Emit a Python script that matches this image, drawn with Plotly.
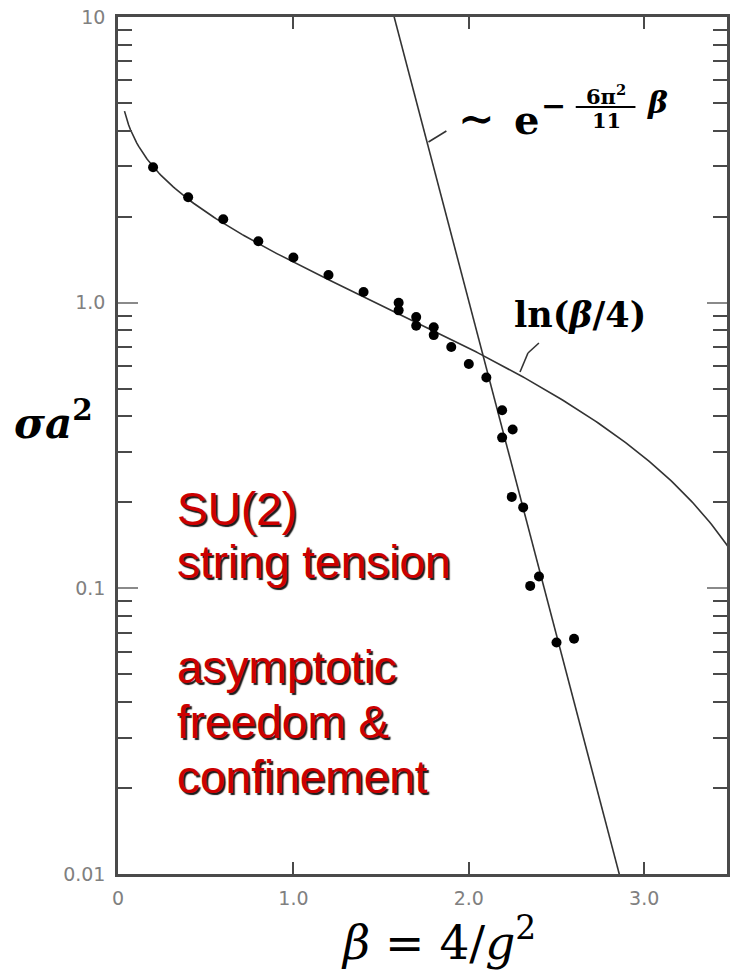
import numpy as np
import plotly.graph_objects as go

# Measured SU(2) string tension (lattice units) vs beta = 4/g^2
beta_pts = [0.20, 0.40, 0.60, 0.80, 1.00, 1.20, 1.40, 1.60, 1.60, 1.70, 1.70,
            1.80, 1.80, 1.90, 2.00, 2.10, 2.19, 2.25, 2.19, 2.245, 2.31, 2.40,
            2.35, 2.50, 2.60]
sigma_pts = [2.98, 2.34, 1.96, 1.64, 1.44, 1.25, 1.09, 1.00, 0.94, 0.89, 0.83,
             0.82, 0.77, 0.70, 0.61, 0.547, 0.42, 0.36, 0.337, 0.209, 0.192, 0.110,
             0.102, 0.0646, 0.0666]

# Axis ticks
x_tickvals = [0, 1, 2, 3]
x_ticktext = ["0", "1.0", "2.0", "3.0"]
y_tickvals = [0.01, 0.1, 1, 10]
y_ticktext = ["0.01", "0.1", "1.0", "10"]
y_minor = [m * d for d in (0.01, 0.1, 1) for m in range(2, 10)]

# Strong coupling curve:  sigma a^2 = -ln(beta/4)
beta_strong = np.linspace(0.037, 3.5, 300)
sigma_strong = -np.log(beta_strong / 4.0)

# Weak coupling (asymptotic freedom):  sigma a^2 ~ C exp(-6 pi^2 / 11 * beta)
EXP_PREFACTOR = 4.8e4
beta_weak = np.linspace(1.5, 2.95, 100)
sigma_weak = EXP_PREFACTOR * np.exp(-6 * np.pi ** 2 / 11 * beta_weak)

W, H = 732, 975
L, R, T, B = 118, 2, 17, 101


def px(x):
    return (x - L) / (W - L - R)


def py(y):
    return (H - B - y) / (H - T - B)


AX = "#4a4a4a"
TICKFONT = dict(family="DejaVu Sans", size=19, color="#808080")

fig = go.Figure()
fig.add_trace(go.Scatter(x=beta_strong, y=sigma_strong, mode="lines",
                         line=dict(color="#333333", width=1.6), hoverinfo="skip"))
fig.add_trace(go.Scatter(x=beta_weak, y=sigma_weak, mode="lines",
                         line=dict(color="#333333", width=1.6), hoverinfo="skip"))
fig.add_trace(go.Scatter(x=beta_pts, y=sigma_pts, mode="markers",
                         marker=dict(size=10, color="black")))

annotations = []


def label(text, x, baseline, size, anchor="left", family="DejaVu Serif",
          color="black", shadow=None):
    font = dict(family=family, size=size, color=color)
    if shadow:
        font["shadow"] = shadow
    annotations.append(dict(
        text=text, x=px(x), y=py(baseline - 0.35 * size), xref="paper",
        yref="paper", xanchor=anchor, yanchor="middle", showarrow=False,
        borderpad=0, font=font))


# Axis titles
label("<b><i>σa</i></b><sup><b>2</b></sup>", 12, 435, 42)
label("<i>β</i> = 4/<i>g</i><sup>2</sup>", 440, 955, 47, anchor="center")

# Curve labels
label("<b>ln(<i>β</i>/4)</b>", 515, 327, 35)
label("<b>∼</b>", 478, 134, 44, anchor="center")
label("<b>e</b>", 515, 133, 40)
label("<b>−</b>", 556, 116, 30, anchor="center")
label("<b>6π<sup>2</sup></b>", 608, 102, 21, anchor="center")
label("<b>11</b>", 609, 128, 21, anchor="center")
label("<b><i>β</i></b>", 660, 113, 30, anchor="center")

# Red slide text
red_lines = [("SU(2)", 525), ("string tension", 578), ("asymptotic", 683),
             ("freedom &amp;", 738), ("confinement", 793)]
for txt, base in red_lines:
    label(txt, 176, base, 46, family="Liberation Sans", color="#cc0000",
          shadow="2px 2px 1px #1a1a1a")

shapes = [
    # fraction bar of the exponent
    dict(type="line", xref="paper", yref="paper", x0=px(578), x1=px(638),
         y0=py(107), y1=py(107), line=dict(color="black", width=2)),
    # leader lines from the labels to the curves
    dict(type="line", xref="paper", yref="paper", x0=px(430), x1=px(448),
         y0=py(142), y1=py(131), line=dict(color="#333333", width=1.6)),
    dict(type="line", xref="paper", yref="paper", x0=px(522), x1=px(530),
         y0=py(372), y1=py(353), line=dict(color="#333333", width=1.6)),
    dict(type="line", xref="paper", yref="paper", x0=px(530), x1=px(541),
         y0=py(353), y1=py(343), line=dict(color="#333333", width=1.6)),
]

fig.update_layout(
    width=W, height=H,
    margin=dict(l=L, r=R, t=T, b=B),
    paper_bgcolor="white", plot_bgcolor="white",
    showlegend=False,
    annotations=annotations,
    shapes=shapes,
    xaxis=dict(
        range=[0, 3.472], tickmode="array", tickvals=x_tickvals,
        ticktext=x_ticktext, ticks="inside", ticklen=12, tickwidth=2,
        tickcolor=AX, showline=True, linewidth=2.5, linecolor=AX,
        mirror="ticks", showgrid=False, zeroline=False, tickfont=TICKFONT,
        ticklabelstandoff=5,
    ),
    yaxis=dict(
        type="log", range=[-2, 1], tickmode="array", tickvals=y_tickvals,
        ticktext=y_ticktext, ticks="inside", ticklen=20, tickwidth=2,
        tickcolor="#8a8a8a", showline=True, linewidth=2.5, linecolor=AX,
        mirror="ticks", showgrid=False, zeroline=False, tickfont=TICKFONT,
        ticklabelstandoff=6,
        minor=dict(tickmode="array", tickvals=y_minor, ticks="inside",
                   ticklen=14, tickwidth=2, tickcolor=AX, showgrid=False),
    ),
)

fig.write_html("out.html")
